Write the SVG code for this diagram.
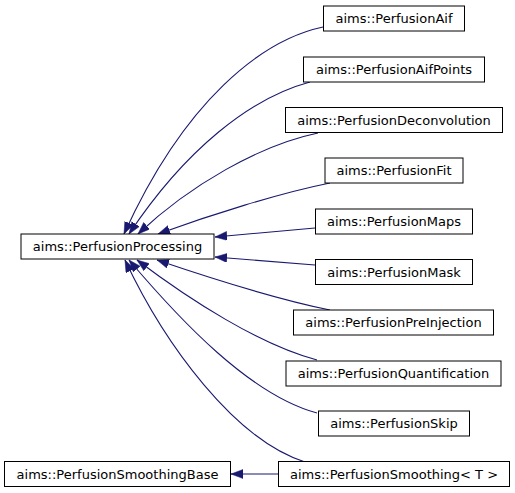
<svg xmlns="http://www.w3.org/2000/svg" width="515" height="493" viewBox="0 0 515 493">
<style>
.n rect{fill:#ffffff;stroke:#000000;stroke-width:1}
.n text{font-family:"DejaVu Sans","Liberation Sans",sans-serif;font-size:13px;fill:#000000;text-anchor:middle}
.e path{fill:none;stroke:#191970;stroke-width:1.1;marker-end:url(#ah)}
</style>
<defs>
<marker id="ah" markerUnits="userSpaceOnUse" markerWidth="13" markerHeight="10" refX="12" refY="4.5" orient="auto">
<path d="M0,0 L12,4.5 L0,9 z" fill="#191970" stroke="#191970" stroke-width="0.5"/>
</marker>
</defs>
<rect width="515" height="493" fill="#ffffff"/>
<g id="edges" class="e">
<path d="M323,27 C262,40 185,100 124,234"/>
<path d="M310,82 C250,98 185,150 129,234"/>
<path d="M318,133 C260,145 190,185 138,234"/>
<path d="M330,183 C280,193 210,215 158,234"/>
<path d="M315,228 L215,237"/>
<path d="M315,265 L215,257"/>
<path d="M330,310 C280,300 210,278 157,260"/>
<path d="M317,360 C260,345 190,300 137,260"/>
<path d="M317,413 C250,395 180,320 129,260"/>
<path d="M305,462 C235,440 165,345 125,260"/>
<path d="M278,474 L231,474"/>
</g>
<g id="PerfusionProcessing" class="n"><rect x="21" y="234" width="193" height="25"/><text x="117.5" y="251">aims::PerfusionProcessing</text></g>
<g id="PerfusionAif" class="n"><rect x="323.5" y="6" width="141" height="25"/><text x="394" y="23">aims::PerfusionAif</text></g>
<g id="PerfusionAifPoints" class="n"><rect x="303.5" y="57" width="181" height="25"/><text x="394" y="74">aims::PerfusionAifPoints</text></g>
<g id="PerfusionDeconvolution" class="n"><rect x="285.5" y="107.5" width="217" height="25"/><text x="394" y="124.5">aims::PerfusionDeconvolution</text></g>
<g id="PerfusionFit" class="n"><rect x="325" y="158" width="138" height="25"/><text x="394" y="175">aims::PerfusionFit</text></g>
<g id="PerfusionMaps" class="n"><rect x="315.5" y="209" width="157" height="25"/><text x="394" y="226">aims::PerfusionMaps</text></g>
<g id="PerfusionMask" class="n"><rect x="315.5" y="259.5" width="157" height="25"/><text x="394" y="276.5">aims::PerfusionMask</text></g>
<g id="PerfusionPreInjection" class="n"><rect x="293.5" y="310" width="200" height="25"/><text x="393.5" y="327">aims::PerfusionPreInjection</text></g>
<g id="PerfusionQuantification" class="n"><rect x="286" y="361" width="215" height="25"/><text x="393.5" y="378">aims::PerfusionQuantification</text></g>
<g id="PerfusionSkip" class="n"><rect x="318.5" y="411" width="151" height="25"/><text x="394" y="428">aims::PerfusionSkip</text></g>
<g id="PerfusionSmoothing" class="n"><rect x="278.5" y="461.5" width="231" height="25"/><text x="394" y="478.5">aims::PerfusionSmoothing&lt; T &gt;</text></g>
<g id="PerfusionSmoothingBase" class="n"><rect x="4.5" y="461.5" width="226" height="25"/><text x="117.5" y="478.5">aims::PerfusionSmoothingBase</text></g>
</svg>
